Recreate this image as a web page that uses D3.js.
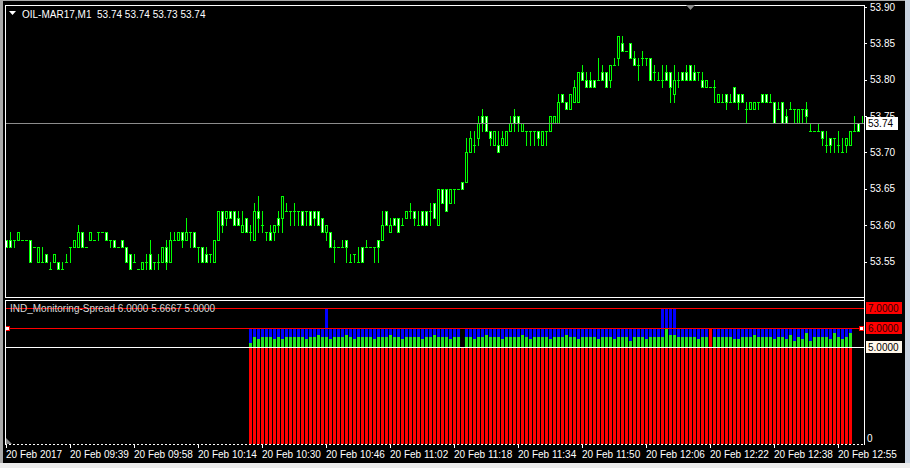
<!DOCTYPE html>
<html><head><meta charset="utf-8">
<script src="https://cdn.jsdelivr.net/npm/d3@7"></script>
<style>
html,body{margin:0;padding:0;background:#000;}
svg{display:block;}
text{font-family:"Liberation Sans",Arial,sans-serif;}
</style></head><body>
<svg id="c" width="910" height="468"></svg>
<script>
// ---------- DATA ----------
const symbolTitle = "OIL-MAR17,M1  53.74 53.74 53.73 53.74";
const indicatorTitle = "IND_Monitoring-Spread 6.0000 5.6667 5.0000";
const timeLabels = ["20 Feb 2017","20 Feb 09:39","20 Feb 09:58","20 Feb 10:14","20 Feb 10:30","20 Feb 10:46","20 Feb 11:02","20 Feb 11:18","20 Feb 11:34","20 Feb 11:50","20 Feb 12:06","20 Feb 12:22","20 Feb 12:38","20 Feb 12:55"];
const priceTicks = [53.55,53.60,53.65,53.70,53.75,53.80,53.85,53.90];
const lastPrice = 53.74;
const opens = [
53.58,53.58,53.58,53.58,53.58,53.58,53.58,53.57,53.55,53.55,
53.56,53.54,53.55,53.55,53.54,53.55,53.57,53.57,53.57,53.59,
53.57,53.58,53.58,53.59,53.59,53.59,53.58,53.58,53.57,53.58,
53.57,53.56,53.55,53.54,53.54,53.55,53.56,53.55,53.55,53.55,
53.57,53.55,53.58,53.58,53.59,53.58,53.59,53.59,53.57,53.57,
53.56,53.56,53.55,53.58,53.62,53.61,53.62,53.62,53.61,53.59,
53.61,53.59,53.58,53.62,53.60,53.59,53.59,53.59,53.61,53.61,
53.62,53.62,53.62,53.62,53.62,53.62,53.62,53.62,53.62,53.61,
53.59,53.59,53.57,53.57,53.57,53.58,53.55,53.56,53.55,53.57,
53.57,53.57,53.57,53.58,53.58,53.62,53.59,53.61,53.61,53.60,
53.61,53.62,53.62,53.60,53.62,53.62,53.62,53.63,53.60,53.65,
53.65,53.63,53.65,53.65,53.66,53.66,53.70,53.71,53.72,53.75,
53.75,53.73,53.71,53.71,53.71,53.71,53.73,53.75,53.75,53.73,
53.73,53.73,53.73,53.73,53.71,53.73,53.73,53.74,53.74,53.78,
53.77,53.76,53.77,53.77,53.81,53.80,53.80,53.80,53.80,53.81,
53.81,53.80,53.82,53.83,53.85,53.84,53.85,53.83,53.82,53.83,
53.83,53.83,53.81,53.80,53.80,53.81,53.81,53.78,53.80,53.81,
53.81,53.82,53.81,53.81,53.80,53.79,53.79,53.79,53.77,53.77,
53.78,53.77,53.79,53.78,53.78,53.76,53.76,53.76,53.77,53.78,
53.78,53.77,53.77,53.76,53.77,53.75,53.76,53.76,53.74,53.76,
53.76,53.73,53.73,53.73,53.73,53.71,53.72,53.72,53.71,53.70,
53.71,53.71,53.73,53.74,53.74];
const highs = [
53.58,53.59,53.58,53.59,53.58,53.58,53.58,53.57,53.57,53.57,
53.56,53.55,53.56,53.55,53.55,53.56,53.57,53.58,53.60,53.59,
53.57,53.59,53.58,53.59,53.59,53.59,53.58,53.58,53.57,53.58,
53.57,53.56,53.56,53.54,53.55,53.56,53.58,53.55,53.56,53.57,
53.58,53.59,53.59,53.59,53.59,53.61,53.59,53.59,53.57,53.57,
53.57,53.56,53.58,53.62,53.62,53.62,53.62,53.62,53.62,53.62,
53.61,53.60,53.63,53.64,53.62,53.59,53.60,53.60,53.62,53.64,
53.63,53.62,53.63,53.62,53.62,53.62,53.62,53.62,53.62,53.61,
53.60,53.59,53.58,53.57,53.58,53.58,53.56,53.56,53.57,53.57,
53.58,53.57,53.57,53.58,53.62,53.62,53.61,53.61,53.61,53.61,
53.62,53.63,53.62,53.62,53.62,53.62,53.63,53.63,53.65,53.65,
53.65,53.65,53.65,53.65,53.66,53.72,53.73,53.73,53.75,53.76,
53.75,53.73,53.73,53.73,53.73,53.73,53.75,53.76,53.75,53.74,
53.73,53.73,53.73,53.73,53.73,53.73,53.75,53.75,53.78,53.78,
53.77,53.78,53.80,53.81,53.82,53.81,53.81,53.80,53.83,53.82,
53.81,53.82,53.83,53.86,53.86,53.84,53.85,53.84,53.83,53.84,
53.83,53.83,53.82,53.81,53.82,53.82,53.81,53.82,53.81,53.81,
53.82,53.82,53.82,53.81,53.81,53.80,53.79,53.80,53.78,53.78,
53.78,53.78,53.79,53.78,53.78,53.77,53.77,53.77,53.77,53.78,
53.78,53.78,53.77,53.77,53.77,53.76,53.77,53.76,53.76,53.76,
53.77,53.74,53.73,53.74,53.73,53.73,53.72,53.72,53.73,53.72,
53.72,53.73,53.75,53.74,53.75];
const lows = [
53.57,53.57,53.57,53.58,53.58,53.58,53.55,53.57,53.55,53.55,
53.55,53.54,53.55,53.54,53.54,53.55,53.55,53.57,53.57,53.57,
53.57,53.58,53.58,53.58,53.59,53.58,53.57,53.57,53.57,53.57,
53.55,53.54,53.55,53.54,53.54,53.54,53.54,53.54,53.54,53.55,
53.54,53.55,53.58,53.58,53.57,53.58,53.57,53.57,53.55,53.55,
53.55,53.55,53.55,53.58,53.59,53.60,53.61,53.60,53.60,53.59,
53.59,53.58,53.58,53.59,53.59,53.58,53.58,53.58,53.59,53.59,
53.62,53.60,53.60,53.60,53.60,53.60,53.60,53.60,53.60,53.59,
53.58,53.57,53.55,53.57,53.57,53.55,53.55,53.55,53.55,53.55,
53.57,53.57,53.55,53.55,53.58,53.60,53.59,53.60,53.59,53.60,
53.61,53.61,53.60,53.60,53.60,53.60,53.60,53.61,53.60,53.63,
53.62,53.63,53.63,53.65,53.65,53.66,53.70,53.70,53.71,53.73,
53.73,53.71,53.71,53.70,53.71,53.71,53.73,53.73,53.73,53.73,
53.71,53.71,53.71,53.71,53.71,53.71,53.73,53.74,53.74,53.77,
53.76,53.76,53.77,53.77,53.80,53.79,53.79,53.79,53.80,53.80,
53.79,53.79,53.82,53.82,53.84,53.84,53.83,53.82,53.80,53.82,
53.82,53.80,53.80,53.80,53.79,53.80,53.77,53.77,53.79,53.80,
53.80,53.80,53.80,53.80,53.79,53.79,53.79,53.77,53.77,53.77,
53.76,53.77,53.77,53.76,53.77,53.74,53.76,53.76,53.76,53.77,
53.77,53.77,53.74,53.76,53.74,53.74,53.76,53.74,53.74,53.74,
53.74,53.73,53.73,53.73,53.71,53.70,53.70,53.70,53.70,53.70,
53.70,53.71,53.73,53.73,53.74];
const closes = [
53.57,53.57,53.58,53.59,53.58,53.58,53.55,53.57,53.57,53.55,
53.55,53.54,53.56,53.54,53.54,53.55,53.57,53.58,53.59,53.57,
53.57,53.59,53.58,53.59,53.59,53.58,53.58,53.57,53.57,53.57,
53.55,53.54,53.55,53.54,53.55,53.55,53.54,53.55,53.55,53.57,
53.55,53.58,53.58,53.59,53.58,53.59,53.59,53.57,53.57,53.55,
53.55,53.56,53.58,53.62,53.60,53.62,53.61,53.60,53.60,53.60,
53.59,53.59,53.62,53.61,53.60,53.59,53.58,53.60,53.60,53.64,
53.62,53.62,53.62,53.62,53.60,53.62,53.60,53.61,53.60,53.59,
53.60,53.57,53.57,53.57,53.57,53.57,53.55,53.56,53.55,53.55,
53.57,53.57,53.57,53.57,53.60,53.60,53.60,53.60,53.59,53.60,
53.62,53.62,53.61,53.60,53.60,53.60,53.62,53.61,53.65,53.63,
53.62,53.65,53.65,53.65,53.65,53.70,53.72,53.71,53.74,53.74,
53.73,53.72,53.73,53.70,53.72,53.73,53.74,53.74,53.74,53.74,
53.73,53.73,53.73,53.72,53.73,53.73,53.75,53.75,53.77,53.77,
53.76,53.78,53.79,53.81,53.80,53.79,53.79,53.79,53.80,53.80,
53.79,53.82,53.82,53.86,53.84,53.84,53.83,53.82,53.82,53.83,
53.83,53.80,53.81,53.80,53.80,53.80,53.79,53.80,53.80,53.80,
53.80,53.80,53.80,53.81,53.79,53.80,53.79,53.79,53.78,53.77,
53.77,53.77,53.77,53.77,53.77,53.76,53.77,53.77,53.77,53.77,
53.77,53.77,53.74,53.76,53.74,53.74,53.76,53.76,53.76,53.76,
53.75,53.73,53.73,53.73,53.72,53.71,53.71,53.72,53.71,53.70,
53.72,53.73,53.73,53.73,53.74];
// spread indicator (first bar index = 61)
const spreadStart = 61;
const spreadMax = [
6,6,6,6,6,6,6,6,6,6,6,6,6,6,6,6,6,6,6,7,
6,6,6,6,6,6,6,6,6,6,6,6,6,6,6,6,6,6,6,6,
6,6,6,6,6,6,6,6,6,6,6,6,6,5,6,6,6,6,6,6,
6,6,6,6,6,6,6,6,6,6,6,6,6,6,6,6,6,6,6,6,
6,6,6,6,6,6,6,6,6,6,6,6,6,6,6,6,6,6,6,6,
6,6,6,7,7,7,7,6,6,6,6,6,6,6,6,6,6,6,6,6,
6,6,6,6,6,6,6,6,6,6,6,6,6,6,6,6,6,6,6,6,
6,6,6,6,6,6,6,6,6,6,6];
const spreadAvg = [
5.2,5.5,5.4,5.5,5.5,5.5,5.4,5.5,5.4,5.5,5.5,5.5,5.5,
5.5,5.4,5.5,5.5,5.6,5.5,5.5,5.4,5.5,5.5,5.5,5.6,5.5,5.4,5.5,5.5,5.5,5.5,5.4,5.5,
5.5,5.5,5.6,5.5,5.5,5.4,5.5,5.5,5.5,5.5,5.4,5.5,5.5,5.6,5.5,5.5,5.5,5.4,5.5,5.5,
5.0,
5.5,5.5,5.4,5.5,5.5,5.6,5.5,5.5,5.5,5.4,5.5,5.5,5.5,5.5,5.6,5.5,5.4,5.5,5.5,5.5,
5.5,5.4,5.5,5.5,5.5,5.6,5.5,5.5,5.4,5.5,5.5,5.5,5.5,5.4,5.5,
5.5,5.5,5.4,5.5,5.5,5.5,5.3,5.5,5.5,5.5,5.4,5.5,5.5,5.5,5.5,5.9,5.6,5.6,5.5,5.5,
5.5,5.5,5.5,5.4,5.5,5.5,6.0,5.5,5.5,5.5,5.5,5.5,5.4,5.4,5.5,5.5,5.5,5.6,5.5,5.5,
5.5,5.5,5.4,5.5,5.5,5.4,5.6,5.3,5.5,5.4,5.7,5.3,5.5,5.5,5.5,5.5,5.4,5.7,
5.5,5.4,5.5,5.7];
const spreadMin = spreadAvg.map((v,k)=> (spreadStart+k===176) ? 6 : 5);
const levelLines = [7,6,5];

// ---------- DRAW ----------
const svg = d3.select("#c");
const W = 910, H = 468;
const L = 5, R = 864, T = 5, MB = 297, IT = 300, IB = 444;

svg.append("rect").attr("width",W).attr("height",H).attr("fill","#000");
// window chrome
svg.append("rect").attr("x",0).attr("y",0).attr("width",3).attr("height",H).attr("fill","#a8a8a8");
svg.append("rect").attr("x",0).attr("y",0).attr("width",W).attr("height",1).attr("fill","#a8a8a8");
svg.append("rect").attr("x",905).attr("y",0).attr("width",5).attr("height",H).attr("fill","#c9d3e0");
svg.append("rect").attr("x",0).attr("y",463).attr("width",W).attr("height",5).attr("fill","#ececec");

const n = opens.length;
const x = d3.scaleLinear().domain([0, n-1]).range([6, 6 + 4*(n-1)]);
const y = d3.scaleLinear().domain([53.55, 53.90]).range([261.5, 7]);
const yS = d3.scaleLinear().domain([0, 7]).range([444.5, 308]);
const col = i => Math.round(x(i));
const py = p => Math.round(y(p));

const defs = svg.append("defs");
defs.append("clipPath").attr("id","cm").append("rect").attr("x",L+1).attr("y",T+1).attr("width",R-L-1).attr("height",MB-T-1);
defs.append("clipPath").attr("id","ci").append("rect").attr("x",L+1).attr("y",IT+1).attr("width",R-L-1).attr("height",IB-IT-1);

const gMain = svg.append("g").attr("clip-path","url(#cm)").attr("shape-rendering","crispEdges");
const idx = d3.range(n);
const lime = "#00ff00";

// wicks
gMain.selectAll("rect.wick").data(idx.filter(i => highs[i] > lows[i])).join("rect")
  .attr("class","wick").attr("x", i => col(i)).attr("width",1)
  .attr("y", i => py(highs[i])).attr("height", i => py(lows[i]) - py(highs[i]) + 1)
  .attr("fill", lime);
// dojis
gMain.selectAll("rect.doji").data(idx.filter(i => opens[i] === closes[i])).join("rect")
  .attr("class","doji").attr("x", i => col(i)-1).attr("width",3)
  .attr("y", i => py(opens[i])).attr("height",1).attr("fill", lime);
// bodies
const bodies = idx.filter(i => opens[i] !== closes[i]);
gMain.selectAll("rect.body").data(bodies).join("rect")
  .attr("class","body").attr("x", i => col(i)-1).attr("width",3)
  .attr("y", i => py(Math.max(opens[i],closes[i])))
  .attr("height", i => py(Math.min(opens[i],closes[i])) - py(Math.max(opens[i],closes[i])) + 1)
  .attr("fill", lime);
gMain.selectAll("rect.inner").data(bodies).join("rect")
  .attr("class","inner").attr("x", i => col(i)).attr("width",1)
  .attr("y", i => py(Math.max(opens[i],closes[i])) + 1)
  .attr("height", i => Math.max(0, py(Math.min(opens[i],closes[i])) - py(Math.max(opens[i],closes[i])) - 1))
  .attr("fill", i => closes[i] < opens[i] ? "#ffffff" : "#000000");

// last price line
gMain.append("rect").attr("x",L).attr("width",R-L).attr("y",py(lastPrice)).attr("height",1).attr("fill","#8c8c8c");

// indicator histogram
const gInd = svg.append("g").attr("clip-path","url(#ci)").attr("shape-rendering","crispEdges");
const base = Math.round(yS(0));
function hist(arr, color, cls){
  gInd.selectAll("rect."+cls).data(arr.map((v,k)=>({i:spreadStart+k, v}))).join("rect")
    .attr("class",cls).attr("x", d => col(d.i)-1).attr("width",3)
    .attr("y", d => Math.round(yS(d.v))).attr("height", d => base - Math.round(yS(d.v)))
    .attr("fill", color);
}
hist(spreadMax, "#0000ff", "mx");
hist(spreadAvg, "#22e622", "av");
hist(spreadMin, "#ff0000", "mn");

// level lines
const gLev = svg.append("g").attr("shape-rendering","crispEdges");
levelLines.forEach(v => {
  gLev.append("rect").attr("x",L).attr("width",R-L).attr("y",Math.round(yS(v))).attr("height",1)
    .attr("fill", v === 5 ? "#ffffff" : "#ff0000");
});
// selection squares on 6.0 line
[7, R-3].forEach(xx => {
  gLev.append("rect").attr("x",xx-2).attr("y",Math.round(yS(6))-2).attr("width",4).attr("height",4)
    .attr("fill","#ffffff").attr("stroke","#ff0000").attr("stroke-width",1);
});

// frames
const gF = svg.append("g").attr("shape-rendering","crispEdges").attr("fill","#ffffff");
gF.append("rect").attr("x",L).attr("y",T).attr("width",R-L+1).attr("height",1);
gF.append("rect").attr("x",L).attr("y",T).attr("width",1).attr("height",MB-T+1);
gF.append("rect").attr("x",L).attr("y",IT).attr("width",1).attr("height",IB-IT);
gF.append("rect").attr("x",R).attr("y",T).attr("width",1).attr("height",IB-T+1);
gF.append("rect").attr("x",L).attr("y",MB).attr("width",R-L+1).attr("height",1);
gF.append("rect").attr("x",L).attr("y",IT).attr("width",R-L+1).attr("height",1);
svg.append("line").attr("x1",L).attr("x2",R).attr("y1",IB+0.5).attr("y2",IB+0.5)
  .attr("stroke","#ffffff").attr("stroke-dasharray","2,2").attr("shape-rendering","crispEdges");

// price axis
const gY = svg.append("g").attr("transform",`translate(${R},0)`)
  .call(d3.axisRight(y).tickValues(priceTicks).tickSize(3).tickPadding(3).tickFormat(d3.format(".2f")));
gY.select(".domain").remove();
gY.selectAll(".tick line").attr("stroke","#ffffff").attr("shape-rendering","crispEdges");
gY.selectAll(".tick text").attr("fill","#ffffff").attr("font-size","10px").attr("font-family","Liberation Sans, Arial, sans-serif").attr("x",6);

// last price tag
svg.append("rect").attr("x",866).attr("y",py(lastPrice)-6).attr("width",32).attr("height",13).attr("fill","#ffffff");
svg.append("text").attr("x",868).attr("y",py(lastPrice)+4).attr("font-size","10px").attr("fill","#000").text(d3.format(".2f")(lastPrice));

// indicator level tags
levelLines.forEach(v => {
  const yy = Math.round(yS(v));
  svg.append("rect").attr("x",866).attr("y",yy-6).attr("width",36).attr("height",12)
    .attr("fill", v === 5 ? "#fff7ea" : "#ff0000");
  svg.append("text").attr("x",868).attr("y",yy+4).attr("font-size","10px")
    .attr("fill", v === 5 ? "#000" : "#300000").text(d3.format(".4f")(v));
});
svg.append("text").attr("x",867).attr("y",442).attr("font-size","10px").attr("fill","#ffffff").text("0");

// time axis
const xAxisScale = x.copy().range([x.range()[0]-0.5, x.range()[1]-0.5]);
const gX = svg.append("g").attr("transform",`translate(0,${IB})`)
  .call(d3.axisBottom(xAxisScale).tickValues(d3.range(0, n, 16)).tickSize(4).tickFormat((d,k) => timeLabels[k]));
gX.select(".domain").remove();
gX.selectAll(".tick line").attr("stroke","#ffffff").attr("shape-rendering","crispEdges");
gX.selectAll(".tick text").attr("fill","#ffffff").attr("font-size","10px")
  .attr("font-family","Liberation Sans, Arial, sans-serif")
  .attr("text-anchor","start").attr("x",0).attr("y",7).attr("dy","0.71em");

// titles
svg.append("path").attr("d","M9,11 L16,11 L12.5,15 Z").attr("fill","#ffffff");
svg.append("text").attr("x",22).attr("y",18).attr("font-size","10px").attr("fill","#ffffff")
  .style("white-space","pre").text(symbolTitle);
svg.append("text").attr("x",10).attr("y",312).attr("font-size","10px").attr("fill","#d8d8d8")
  .text(indicatorTitle);

// shift marker and corner triangle
svg.append("path").attr("d","M686,5 L695,5 L690.5,10 Z").attr("fill","#8a8a8a");
svg.append("path").attr("d","M6,438 L6,444 L12,444 Z").attr("fill","#8a8a8a");
</script>
</body></html>
